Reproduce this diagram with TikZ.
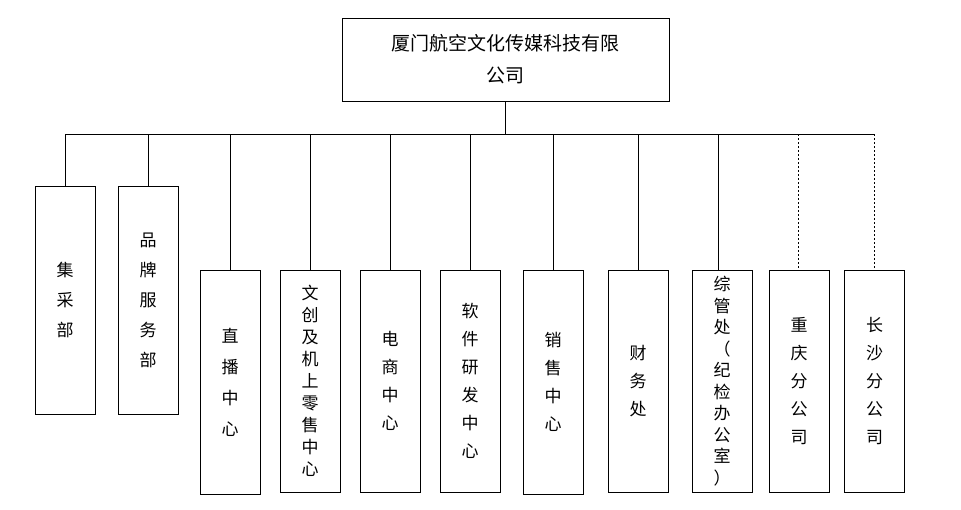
\documentclass[tikz,border=0pt]{standalone}
\usepackage{fontspec}
\newfontfamily\cjk{Noto Sans CJK SC}
\begin{document}
\begin{tikzpicture}[x=1pt,y=-1pt,
  box/.style={draw,line width=0.8pt,inner sep=0pt,font=\cjk\fontsize{17}{#1}\selectfont,align=center},
  ln/.style={line width=0.6pt},
  dl/.style={line width=0.6pt,dash pattern=on 2pt off 2pt}]
\useasboundingbox (0,0) rectangle (961,509);
\node[draw,line width=0.8pt,minimum width=327pt,minimum height=83pt,align=center,font=\cjk\fontsize{19}{32}\selectfont] (top) at (505.5,59.5) {厦门航空文化传媒科技有限\\公司};
\coordinate (bl) at (65,134); \coordinate (br) at (875,134);
\coordinate (bm) at (505.5,134);
\draw[ln] (top.south) -- (bm);
\draw[ln] (bl) -- (br);
\newcommand\bx[6]{% name, x, ytop, ybot, spacing, text
  \node[box=#5,minimum width=60pt,minimum height={#4-#3}] (#1) at (#2,{(#3+#4)/2}) {#6};}
\bx{a}{65}{186}{414}{30}{集\\采\\部}
\bx{b}{148}{186}{414}{30}{品\\牌\\服\\务\\部}
\bx{c}{230}{270}{494}{31}{直\\播\\中\\心}
\bx{d}{310}{270}{492}{22}{文\\创\\及\\机\\上\\零\\售\\中\\心}
\bx{e}{390}{270}{492}{28}{电\\商\\中\\心}
\bx{f}{470}{270}{492}{28}{软\\件\\研\\发\\中\\心}
\bx{g}{553}{270}{494}{28}{销\\售\\中\\心}
\bx{h}{638}{270}{492}{28}{财\\务\\处}
\bx{i}{722}{270}{492}{21.5}{综\\管\\处\\（\\纪\\检\\办\\公\\室\\）}
\bx{j}{799}{270}{492}{28}{重\\庆\\分\\公\\司}
\bx{k}{874.5}{270}{492}{28}{长\\沙\\分\\公\\司}
\foreach \n/\xx in {a/65,b/148,c/230,d/310,e/390,f/470,g/553,h/638,i/718}
  \draw[ln] (\xx,134) -- (\xx,0|-\n.north);
\draw[dl] (798,134) -- (798,0|-j.north);
\draw[dl] (874,134) -- (874,0|-k.north);
\end{tikzpicture}
\end{document}
